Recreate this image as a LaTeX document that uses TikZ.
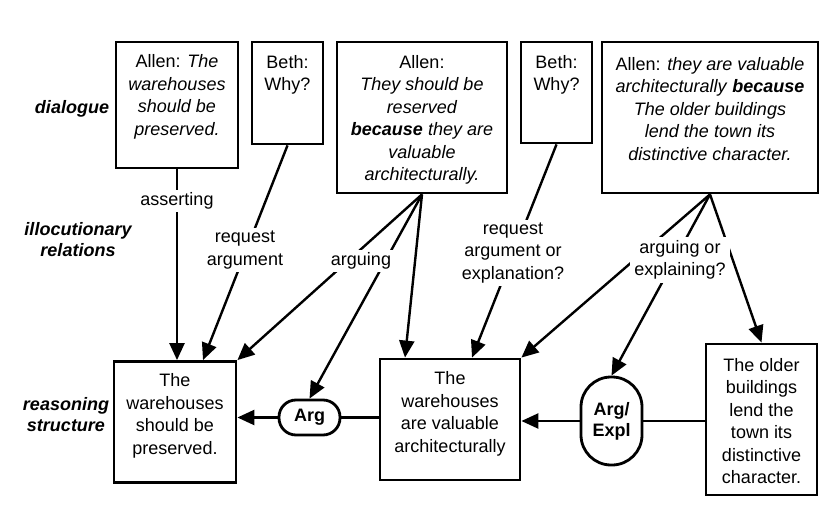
\documentclass[tikz,border=0pt]{standalone}
\usepackage{fontspec}
\setmainfont{Liberation Sans}
\usetikzlibrary{arrows.meta}
\tikzset{
  x=1pt, y=-1pt,
  txt/.style={font=\fontsize{18pt}{22.5pt}\selectfont, align=center, inner sep=1pt},
  side/.style={txt, font=\fontsize{18pt}{21pt}\selectfont\bfseries\itshape},
  box/.style={draw, line width=2.8pt, inner sep=0pt},
  oval/.style={draw, line width=2.8pt, inner sep=0pt, fill=white, font=\fontsize{18pt}{21pt}\selectfont\bfseries, align=center},
  lbl/.style={txt, fill=white, inner xsep=4pt, inner ysep=3pt},
  conn/.style={line width=2.4pt},
  arr/.style={conn, -{Triangle[length=17pt,width=15pt]}},
}
\begin{document}
\begin{tikzpicture}
\path[use as bounding box, fill=white] (0,0) rectangle (840,521);

% dialogue boxes
\node[box, minimum width=122pt, minimum height=126pt] (A1) at (177,105) {};
\node[box, minimum width=71pt, minimum height=102pt] (B1) at (287.5,93) {};
\node[box, minimum width=170pt, minimum height=151pt] (A2) at (422,117.5) {};
\node[box, minimum width=71pt, minimum height=101pt] (B2) at (556.5,92.5) {};
\node[box, minimum width=216pt, minimum height=151pt] (A3) at (710,117.5) {};

\node[txt] (tA1) at (177,97) {Allen: \textit{The}\\ \textit{warehouses}\\ \textit{should be}\\ \textit{preserved.}};
\node[txt] (tB1) at (287.5,75) {Beth:\\ Why?};
\node[txt] (tA2) at (422,120) {Allen:\\ \textit{They should be}\\ \textit{reserved}\\ \textbf{\textit{because}} \textit{they are}\\ \textit{valuable}\\ \textit{architecturally.}};
\node[txt] (tB2) at (556.5,75) {Beth:\\ Why?};
\node[txt] (tA3) at (710,109) {Allen: \textit{they are valuable}\\ \textit{architecturally} \textbf{\textit{because}}\\ \textit{The older buildings}\\ \textit{lend the town its}\\ \textit{distinctive character.}};

% reasoning boxes
\node[box, minimum width=122pt, minimum height=121pt] (R1) at (175,422) {};
\node[box, minimum width=140pt, minimum height=121pt] (R2) at (450,419.5) {};
\node[box, minimum width=111pt, minimum height=151pt] (R3) at (761.5,419.5) {};

\node[txt] (tR1) at (175,416) {The\\ warehouses\\ should be\\ preserved.};
\node[txt] (tR2) at (450,414) {The\\ warehouses\\ are valuable\\ architecturally};
\node[txt] (tR3) at (761.5,421) {The older\\ buildings\\ lend the\\ town its\\ distinctive\\ character.};

% inference nodes
\node[oval, rounded corners=17pt, minimum width=61pt, minimum height=35pt] (Arg) at (309.5,417.5) {Arg};
\node[oval, rounded corners=30pt, minimum width=61pt, minimum height=88pt] (ArgE) at (611.5,421) {Arg/\\ Expl};

% reasoning connectors
\draw[arr] (Arg.west) -- (Arg.west -| R1.east);
\draw[conn] (R2.west |- Arg.east) -- (Arg.east);
\draw[arr] (ArgE.west) -- (ArgE.west -| R2.east);
\draw[conn] (R3.west |- ArgE.east) -- (ArgE.east);

% illocutionary connectors
\draw[arr] (A1.south) -- (A1.south |- R1.north);
\draw[arr] (B1.south) -- ([xshift=28pt]R1.north);
\draw[arr] (A2.south) -- (R1.north east);
\draw[arr] (A2.south) -- (Arg.north);
\draw[arr] (A2.south) -- ([xshift=-45pt]R2.north);
\draw[arr] (B2.south) -- ([xshift=22pt]R2.north);
\draw[arr] (A3.south) -- (R2.north east);
\draw[arr] (A3.south) -- (ArgE.north);
\draw[arr] (A3.south) -- (R3.north);

% illocutionary labels
\node[lbl] (l1) at (177,201) {asserting};
\node[lbl] (l2) at (245,250) {request\\ argument};
\node[lbl] (l3) at (361,261) {arguing};
\node[lbl] (l4) at (513,253) {request\\ argument or\\ explanation?};
\node[lbl] (l5) at (680,260) {arguing or\\ explaining?};

% side labels
\node[side] (s1) at (72,109) {dialogue};
\node[side] (s2) at (78,240) {illocutionary\\ relations};
\node[side] (s3) at (66,415) {reasoning\\ structure};
\end{tikzpicture}
\end{document}
